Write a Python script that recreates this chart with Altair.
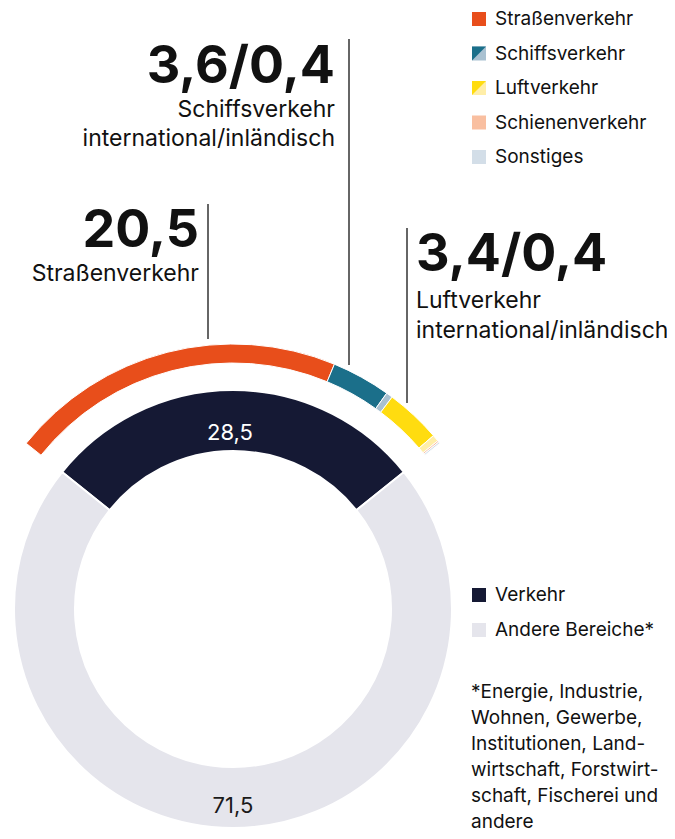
import altair as alt
import pandas as pd
import math

# ---------------- data ----------------
inner_cats = ["Verkehr", "Andere Bereiche*"]
inner_vals = [28.5, 71.5]
inner_labels = ["28,5", "71,5"]

outer_cats = ["Straßenverkehr", "Schiffsverkehr international", "Schiffsverkehr inländisch",
              "Luftverkehr international", "Luftverkehr inländisch", "Schienenverkehr", "Sonstiges"]
outer_vals = [20.5, 3.6, 0.4, 3.4, 0.4, 0.1, 0.1]

legend1_labels = ["Straßenverkehr", "Schiffsverkehr", "Luftverkehr", "Schienenverkehr", "Sonstiges"]
legend1_base = ["Straßenverkehr", "Schiffsverkehr inländisch", "Luftverkehr inländisch", "Schienenverkehr", "Sonstiges"]
legend1_tri_labels = ["Schiffsverkehr", "Luftverkehr"]
legend1_tri = ["Schiffsverkehr international", "Luftverkehr international"]

footnote = ["*Energie, Industrie,", "Wohnen, Gewerbe,", "Institutionen, Land-",
            "wirtschaft, Forstwirt-", "schaft, Fischerei und", "andere"]

# ---------------- styles ----------------
inner_colors = ["#151934", "#E5E5EC"]
outer_colors = ["#E84E1B", "#1B6F8A", "#A9C1D1", "#FFDC10", "#FFEEA8", "#F9BFA0", "#D3DEE8"]
FONT = "Inter"
CX, CY = 225, 601
start = -51.3 * math.pi / 180
theta_scale = alt.Scale(domain=[0, 100], range=[start, start + 2 * math.pi])

inner_df = pd.DataFrame({"cat": inner_cats, "value": inner_vals, "ord": range(len(inner_cats)),
                         "label": inner_labels})
outer_df = pd.DataFrame({"seg": outer_cats, "value": outer_vals, "ord": range(len(outer_cats))})

inner = alt.Chart(inner_df).mark_arc(innerRadius=158, outerRadius=219, stroke="white", strokeWidth=2).encode(
    theta=alt.Theta("value:Q", stack=True, scale=theta_scale),
    order=alt.Order("ord:Q"),
    color=alt.Color("cat:N", scale=alt.Scale(domain=inner_cats, range=inner_colors), legend=None),
    x=alt.value(CX), y=alt.value(CY),
)

outer = alt.Chart(outer_df).mark_arc(innerRadius=246, outerRadius=265, stroke="white", strokeWidth=1).encode(
    theta=alt.Theta("value:Q", stack=True, scale=theta_scale),
    order=alt.Order("ord:Q"),
    color=alt.Color("seg:N", scale=alt.Scale(domain=outer_cats, range=outer_colors), legend=None),
    x=alt.value(CX), y=alt.value(CY),
)

# value labels in ring
lab_top = alt.Chart(inner_df.iloc[[0]]).mark_text(font=FONT, fontSize=22, color="white", align="center").encode(
    text="label:N", x=alt.value(222), y=alt.value(425))
lab_bot = alt.Chart(inner_df.iloc[[1]]).mark_text(font=FONT, fontSize=22, color="#1a1a1a", align="center").encode(
    text="label:N", x=alt.value(225), y=alt.value(798))

# annotations
def txt(t, x, y, size, weight="normal", align="left"):
    return alt.Chart(pd.DataFrame({"t": [t]})).mark_text(
        font=FONT, fontSize=size, fontWeight=weight, align=align, baseline="alphabetic", color="#111111"
    ).encode(text="t:N", x=alt.value(x), y=alt.value(y))

def rule(x, y1, y2):
    return alt.Chart(pd.DataFrame({"a": [0]})).mark_rule(color="#333333", strokeWidth=1.5).encode(
        x=alt.value(x), y=alt.value(y1), y2=alt.value(y2))

annots = [
    txt("3,6/0,4", 327, 75, 52, "bold", "right"),
    txt("Schiffsverkehr", 327, 109, 23, align="right"),
    txt("international/inländisch", 327, 138, 23, align="right"),
    txt("20,5", 191, 239, 52, "bold", "right"),
    txt("Straßenverkehr", 191, 273, 23, align="right"),
    txt("3,4/0,4", 408, 263, 52, "bold", "left"),
    txt("Luftverkehr", 408, 300, 23),
    txt("international/inländisch", 408, 330, 23),
    rule(200, 196, 331),
    rule(341, 31, 357),
    rule(399, 220, 395),
]

# legend 1
leg1_df = pd.DataFrame({"label": legend1_labels, "seg": legend1_base})
leg1_tri_df = pd.DataFrame({"label": legend1_tri_labels, "seg": legend1_tri})
y1 = alt.Y("label:N", scale=alt.Scale(type="point", domain=legend1_labels, range=[11, 149], padding=0), axis=None)
color1 = alt.Color("seg:N", scale=alt.Scale(domain=outer_cats, range=outer_colors), legend=None)
leg1_sq = alt.Chart(leg1_df).mark_point(shape="square", filled=True, size=196, opacity=1).encode(
    x=alt.value(471), y=y1, color=color1)
leg1_tri = alt.Chart(leg1_tri_df).mark_point(shape="M-1,-1L1,-1L-1,1Z", filled=True, size=196, opacity=1).encode(
    x=alt.value(471), y=y1, color=color1)
leg1_txt = alt.Chart(leg1_df).mark_text(font=FONT, fontSize=19, align="left", baseline="middle", color="#111111").encode(
    x=alt.value(487), y=y1, text="label:N")
legend1 = alt.layer(leg1_sq, leg1_tri, leg1_txt)

# legend 2
leg2_df = pd.DataFrame({"cat": inner_cats})
y2 = alt.Y("cat:N", scale=alt.Scale(type="point", domain=inner_cats, range=[587, 622], padding=0), axis=None)
leg2_sq = alt.Chart(leg2_df).mark_point(shape="square", filled=True, size=196, opacity=1).encode(
    x=alt.value(471), y=y2,
    color=alt.Color("cat:N", scale=alt.Scale(domain=inner_cats, range=inner_colors), legend=None))
leg2_txt = alt.Chart(leg2_df).mark_text(font=FONT, fontSize=19, align="left", baseline="middle", color="#111111").encode(
    x=alt.value(487), y=y2, text="cat:N")
legend2 = alt.layer(leg2_sq, leg2_txt)

foot = alt.Chart(pd.DataFrame({"t": ["\n".join(footnote)]})).mark_text(
    font=FONT, fontSize=19, align="left", baseline="middle", lineBreak="\n", lineHeight=26, color="#111111"
).encode(text="t:N", x=alt.value(463), y=alt.value(684))

chart = alt.layer(inner, outer, lab_top, lab_bot, *annots, legend1, legend2, foot).resolve_scale(
    y="independent", color="independent", theta="independent"
).properties(width=659, height=831, autosize="none", padding=0).configure_view(stroke=None)

chart.save("out.html", embed_options={"renderer": "svg", "actions": False})
